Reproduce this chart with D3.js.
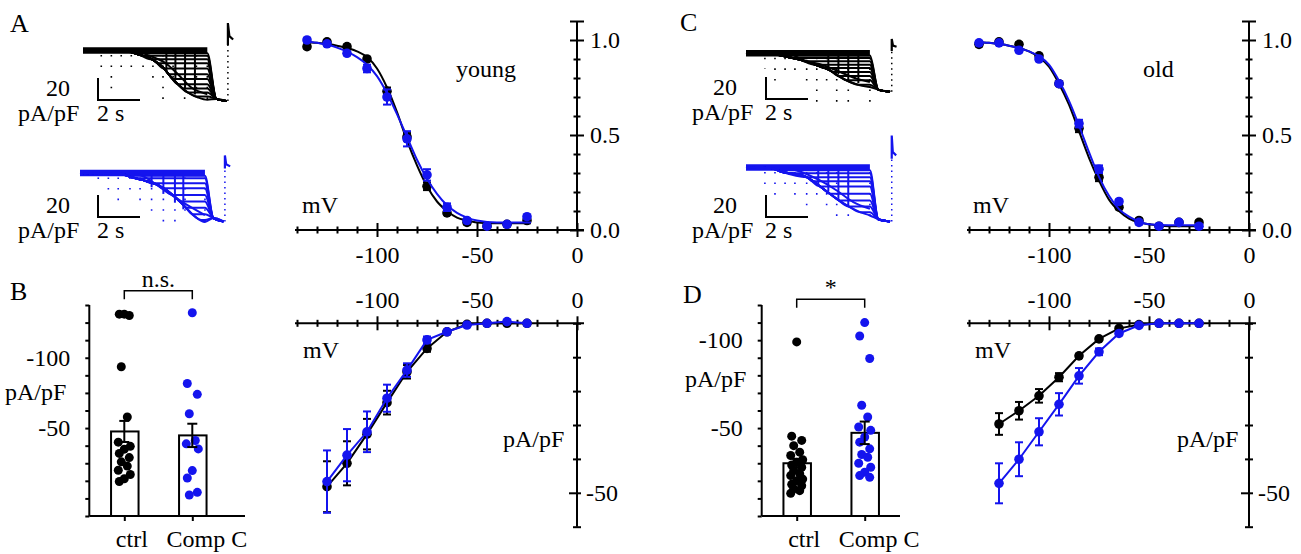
<!DOCTYPE html>
<html lang="en">
<head>
<meta charset="UTF-8">
<title>Ih activation, young vs old</title>
<script src="https://d3js.org/d3.v7.min.js"></script>
<style>
    body { margin: 0; background: #fff; }
    svg text { font-family: 'Liberation Serif', 'Times New Roman', serif; font-size: 24px; fill: #000; }
    .axis path, .axis line { stroke: #000; stroke-width: 2; fill: none; }
    .letter { font-size: 26px !important; }
</style>
</head>
<body>
<script>
// ---------- data ----------
// activation curves (normalised), test potentials in mV
var actV = [-135, -125, -115, -105, -95, -85, -75, -65, -55, -45, -35, -25];
var actYoungCtrl     = [0.965, 0.99, 0.965, 0.90, 0.73, 0.49, 0.23, 0.09, 0.04, 0.02, 0.03, 0.05];
var actYoungCtrlErr  = [0.01, 0.01, 0.01, 0.01, 0.02, 0.02, 0.02, 0.01, 0.01, 0.01, 0.01, 0.01];
var actYoungComp     = [1.0, 0.98, 0.93, 0.85, 0.70, 0.48, 0.29, 0.12, 0.05, 0.02, 0.03, 0.07];
var actYoungCompErr  = [0.01, 0.01, 0.01, 0.02, 0.04, 0.04, 0.03, 0.02, 0.01, 0.01, 0.01, 0.01];
var actOldCtrl       = [0.977, 0.99, 0.977, 0.917, 0.77, 0.535, 0.277, 0.12, 0.05, 0.02, 0.04, 0.04];
var actOldCtrlErr    = [0.01, 0.01, 0.01, 0.01, 0.01, 0.02, 0.02, 0.01, 0.01, 0.01, 0.01, 0.01];
var actOldComp       = [0.985, 0.985, 0.946, 0.90, 0.77, 0.56, 0.32, 0.15, 0.04, 0.02, 0.04, 0.02];
var actOldCompErr    = [0.01, 0.01, 0.01, 0.01, 0.01, 0.02, 0.02, 0.01, 0.01, 0.01, 0.01, 0.01];

// fitted curves
var fitV = [-137, -130, -120, -110, -105, -100, -95, -90, -85, -80, -75, -70, -65, -60, -55, -50, -40, -23];
var fitYoungCtrl = [0.99, 0.985, 0.97, 0.94, 0.91, 0.85, 0.75, 0.62, 0.47, 0.34, 0.23, 0.15, 0.10, 0.065, 0.05, 0.04, 0.035, 0.035];
var fitYoungComp = [0.995, 0.985, 0.96, 0.91, 0.87, 0.81, 0.72, 0.61, 0.49, 0.37, 0.27, 0.19, 0.13, 0.09, 0.065, 0.05, 0.04, 0.04];
var fitOldCtrl   = [0.99, 0.985, 0.97, 0.94, 0.91, 0.86, 0.77, 0.66, 0.52, 0.38, 0.26, 0.16, 0.10, 0.06, 0.04, 0.03, 0.02, 0.02];
var fitOldComp   = [0.99, 0.985, 0.97, 0.94, 0.915, 0.87, 0.785, 0.68, 0.55, 0.41, 0.28, 0.18, 0.11, 0.07, 0.045, 0.03, 0.025, 0.025];

// current densities (pA/pF) vs test potential
var ivV = [-125, -115, -105, -95, -85, -75, -65, -55, -45, -35, -25];
var ivYoungCtrl    = [-48.2, -41.3, -32.7, -23.4, -14.3, -7.4, -2.5, -0.3, 0, 0, 0];
var ivYoungCtrlErr = [7.5, 6.5, 4.5, 3.5, 2, 1, 0.5, 0.3, 0.3, 0.3, 0.3];
var ivYoungComp    = [-46.7, -38.9, -32, -22.1, -13.8, -4.9, -2.5, -0.5, 0, 0.5, 0];
var ivYoungCompErr = [9.2, 7.7, 6, 4, 2, 1, 0.5, 0.3, 0.3, 0.3, 0.3];
var ivOldCtrl      = [-29.7, -25.8, -21.4, -15.9, -9.6, -4.6, -1.5, -0.4, 0, 0, 0];
var ivOldCtrlErr   = [3.2, 2.6, 2, 1.2, 0.6, 0.4, 0.3, 0.2, 0.2, 0.2, 0.2];
var ivOldComp      = [-47.2, -40.1, -32, -23.9, -15.5, -8.4, -3, -0.6, 0, 0, 0];
var ivOldCompErr   = [5.9, 5, 4, 3.3, 2.3, 1, 0.5, 0.3, 0.3, 0.3, 0.3];

// single cells, max current density (pA/pF)
var groups = ["ctrl", "Comp C"];
var cellsYoungCtrl = [-131, -131, -130, -93.6, -57.9, -40, -37, -35, -32, -29, -26, -23, -20, -17, -14, -12];
var cellsYoungComp = [-132, -81.7, -74, -60.2, -41.2, -38.8, -35.2, -19.8, -14.5, -4.3, -2.4];
var meanYoung = [-47.6, -44.8];
var semYoung  = [7.5, 8.3];
var cellsOldCtrl = [-99, -45.4, -43, -40, -36.3, -34.4, -32, -30.6, -29, -27.7, -25.8, -24, -23, -21, -20.1, -18, -17.2, -15.5, -14.4, -12.9];
var cellsOldComp = [-110, -102.4, -89.6, -63, -56.3, -50.6, -48.7, -44.9, -42, -38.2, -35, -33.4, -30, -27.7, -24.9, -23, -22];
var meanOld = [-30, -47.3];
var semOld  = [2.5, 6.4];

// example current traces: [time s, pA/pF]
var youngCtrlEnv   = [[0, 0], [2.0, -0.5], [2.62, -3.4], [3.41, -9.4], [3.89, -17], [4.2, -24.5], [4.52, -30.6], [5.0, -38.2], [5.48, -42.7], [5.92, -44.8]];
var youngCtrlLevels = [-2.5, -4.8, -7.9, -11.5, -16.4, -21.5, -26, -30.6, -34.5, -38.2, -41.8];
var youngCtrlInner = [[2.7, -1.5], [3.17, -4.8], [3.89, -10.9], [4.52, -21.5], [5.16, -33.6], [5.92, -39.7]];
var youngCtrlVert  = [[3.97, -19], [4.4, -27], [4.86, -34], [5.33, -40]];
var youngCtrlTrans = [[0.87, -20], [1.35, -40], [1.82, -20], [2.3, -22], [2.86, -20], [3.33, -30], [3.81, -45], [4.29, -30], [4.84, -48], [5.4, -40], [5.92, -52]];
var youngCtrlTail  = [[6.35, -44], [6.85, -46]];
var youngCtrlSpike = [[6.9, 5], [6.9, 25], [6.97, 13], [7.15, 10]];

var youngCompEnv   = [[0, 0], [1.9, -0.5], [2.38, -3.4], [3.0, -6.5], [3.71, -10.9], [4.52, -21.5], [5.0, -30.6], [5.48, -39.7], [5.95, -44.5]];
var youngCompLevels = [-2.5, -4.8, -9.4, -13.9, -20, -26, -31.5, -37.5, -42.7];
var youngCompInner = [[2.6, -1], [2.94, -2.5], [3.89, -13.9], [4.84, -26], [5.95, -38.2]];
var youngCompVert  = [[3.41, -13], [3.97, -19], [4.52, -27], [4.92, -33]];
var youngCompTrans = [[0.87, -9], [1.35, -21.5], [1.82, -27], [2.38, -15], [2.86, -30], [3.41, -38], [3.97, -45], [4.52, -45], [5.0, -40], [5.95, -52]];
var youngCompTail  = [[6.35, -41], [6.83, -44]];
var youngCompSpike = [[6.9, 4], [6.9, 16], [6.96, 8], [7.15, 6]];

var oldCtrlEnv   = [[0, 0], [1.3, -0.5], [1.78, -2.5], [2.6, -6], [3.37, -10.9], [4.0, -15.5], [4.48, -21.5], [4.95, -26.1], [5.43, -29.1], [5.9, -30.6]];
var oldCtrlLevels = [-2, -4.2, -7.3, -10.3, -13.3, -17, -20.6, -24.5, -28.5];
var oldCtrlInner = [[2.2, -1], [2.57, -4.8], [3.68, -10.9], [4.48, -17], [5.27, -23], [5.9, -26.1]];
var oldCtrlVert  = [[3.92, -14], [4.4, -19], [4.87, -24], [5.35, -27]];
var oldCtrlTrans = [[0.9, -14], [1.38, -32], [1.86, -23], [2.33, -20], [2.89, -32], [3.37, -49], [3.84, -29], [4.32, -50], [4.87, -45], [5.9, -50]];
var oldCtrlTail  = [[6.3, -33], [6.86, -35]];
var oldCtrlSpike = [[6.94, 2], [6.94, 13], [7.0, 7], [7.17, 6]];

var oldCompEnv   = [[0, 0], [1.2, -0.5], [1.62, -3.4], [2.89, -8.8], [3.68, -19.4], [4.32, -28.5], [4.95, -36.1], [5.43, -40.6], [5.9, -43.6]];
var oldCompLevels = [-2.5, -5.2, -8.8, -12.4, -17.3, -23.9, -30, -35.5, -40.6];
var oldCompInner = [[2.0, -1], [2.41, -2.7], [3.52, -11.8], [4.32, -20.9], [5.11, -31.5], [5.9, -37.5]];
var oldCompVert  = [[3.44, -15], [3.92, -22], [4.4, -29], [4.87, -34]];
var oldCompTrans = [[0.9, -21], [1.38, -26], [1.86, -20], [2.33, -30], [2.89, -34.5], [3.37, -31], [3.84, -42], [4.32, -45], [4.87, -46], [5.9, -48]];
var oldCompTail  = [[6.3, -47], [6.86, -49]];
var oldCompSpike = [[6.94, 8], [6.94, 29], [6.99, 14], [7.15, 11]];

// ---------- drawing ----------
var BLUE = "#1414ee";
var svg = d3.select("body").append("svg").attr("width", 1301).attr("height", 554);

function txt(x, y, s, anchor, cls) {
    var t = svg.append("text").attr("x", x).attr("y", y).text(s);
    if (anchor) t.attr("text-anchor", anchor);
    if (cls) t.attr("class", cls);
    return t;
}

function errBar(g, x, y0, y1, color, cap) {
    g.append("line").attr("x1", x).attr("x2", x).attr("y1", y0).attr("y2", y1)
        .attr("stroke", color).attr("stroke-width", 2);
    [y0, y1].forEach(function(yy) {
        g.append("line").attr("x1", x - cap).attr("x2", x + cap).attr("y1", yy).attr("y2", yy)
            .attr("stroke", color).attr("stroke-width", 2);
    });
}

function series(g, x, y, xs, mean, err, color) {
    xs.forEach(function(v, i) {
        errBar(g, x(v), y(mean[i] - err[i]), y(mean[i] + err[i]), color, 4);
    });
    g.selectAll(null).data(xs).enter().append("circle")
        .attr("cx", function(d) { return x(d); })
        .attr("cy", function(d, i) { return y(mean[i]); })
        .attr("r", 4.8).attr("fill", color);
}

function activationPanel(axisX, ctrl, ctrlErr, comp, compErr, fitC, fitB) {
    var x = d3.scaleLinear().domain([-140, 0]).range([axisX - 280, axisX]);
    var y = d3.scaleLinear().domain([0, 1]).range([230, 40]);
    var xMajor = function(d) { return d % 50 === 0; };
    var xa = svg.append("g").attr("class", "axis").attr("transform", "translate(0," + y(0) + ")")
        .call(d3.axisBottom(x).tickValues(d3.range(-140, 1, 10)).tickSizeOuter(0)
            .tickFormat(function(d) { return xMajor(d) ? d : ""; }));
    xa.select(".domain").attr("d", "M" + (x(-140) - 2) + ",0H" + (axisX + 7));
    xa.selectAll(".tick line").attr("y1", function(d) { return xMajor(d) ? -7 : -3.5; })
        .attr("y2", function(d) { return xMajor(d) ? 7 : 3.5; });
    xa.selectAll(".tick text").attr("y", 16);

    var yTicks = d3.range(0, 12).map(function(i) { return i / 10; });
    var yMajor = function(d) { return [0, 5, 10, 11].indexOf(Math.round(d * 10)) >= 0; };
    var ya = svg.append("g").attr("class", "axis").attr("transform", "translate(" + axisX + ",0)")
        .call(d3.axisRight(y).tickValues(yTicks).tickSizeOuter(0)
            .tickFormat(function(d) { return [0, 5, 10].indexOf(Math.round(d * 10)) >= 0 ? d3.format(".1f")(d) : ""; }));
    ya.select(".domain").attr("d", "M0," + y(0) + "V" + y(1.1));
    ya.selectAll(".tick line").attr("x1", function(d) { return yMajor(d) ? -7 : -3.5; })
        .attr("x2", function(d) { return yMajor(d) ? 7 : 3.5; });
    ya.selectAll(".tick text").attr("x", 13);

    var g = svg.append("g");
    var fit = d3.line().x(function(d) { return x(d[0]); }).y(function(d) { return y(d[1]); }).curve(d3.curveMonotoneX);
    g.append("path").datum(fitV.map(function(v, i) { return [v, fitC[i]]; }))
        .attr("fill", "none").attr("stroke", "#000").attr("stroke-width", 2).attr("d", fit);
    series(g, x, y, actV, ctrl, ctrlErr, "#000");
    g.append("path").datum(fitV.map(function(v, i) { return [v, fitB[i]]; }))
        .attr("fill", "none").attr("stroke", BLUE).attr("stroke-width", 2).attr("d", fit);
    series(g, x, y, actV, comp, compErr, BLUE);
}

function ivPanel(axisX, ctrl, ctrlErr, comp, compErr) {
    var x = d3.scaleLinear().domain([-140, 0]).range([axisX - 280, axisX]);
    var y = d3.scaleLinear().domain([0, -60]).range([323.3, 526.7]);
    var xMajor = function(d) { return d % 50 === 0; };
    var xa = svg.append("g").attr("class", "axis").attr("transform", "translate(0," + y(0) + ")")
        .call(d3.axisTop(x).tickValues(d3.range(-140, 1, 10)).tickSizeOuter(0)
            .tickFormat(function(d) { return xMajor(d) ? d : ""; }));
    xa.select(".domain").attr("d", "M" + (x(-140) - 2) + ",0H" + (axisX + 7));
    xa.selectAll(".tick line").attr("y1", function(d) { return xMajor(d) ? -7 : -3.5; })
        .attr("y2", function(d) { return xMajor(d) ? 7 : 3.5; });
    xa.selectAll(".tick text").attr("y", -15).attr("dy", 0);

    var ya = svg.append("g").attr("class", "axis").attr("transform", "translate(" + axisX + ",0)")
        .call(d3.axisRight(y).tickValues(d3.range(-60, 1, 10)).tickSizeOuter(0)
            .tickFormat(function(d) { return d === -50 ? d : ""; }));
    ya.select(".domain").attr("d", "M0," + y(0) + "V" + y(-60));
    ya.selectAll(".tick line").attr("x1", function(d) { return d === -50 ? -8 : -4; })
        .attr("x2", 4);
    ya.selectAll(".tick text").attr("x", 9);

    var g = svg.append("g");
    [[ctrl, ctrlErr, "#000"], [comp, compErr, BLUE]].forEach(function(s) {
        g.append("path").datum(ivV.map(function(v, i) { return [v, s[0][i]]; }))
            .attr("fill", "none").attr("stroke", s[2]).attr("stroke-width", 2)
            .attr("d", d3.line().x(function(d) { return x(d[0]); }).y(function(d) { return y(d[1]); }));
        series(g, x, y, ivV, s[0], s[1], s[2]);
    });
}

function barPanel(axisX, xEnd, domain, tickVals, cellsA, cellsB, mean, sem, sig, brTop, sigY) {
    var y = d3.scaleLinear().domain(domain).range([516, 305]);
    var x = d3.scalePoint().domain(groups).range([axisX + 35, axisX + 103]);
    var ya = svg.append("g").attr("class", "axis").attr("transform", "translate(" + axisX + ",0)")
        .call(d3.axisLeft(y).tickValues(tickVals).tickSize(4).tickPadding(15).tickSizeOuter(0)
            .tickFormat(function(d) { return (d === -100 || d === -50) ? d : ""; }));
    ya.select(".domain").attr("d", "M0," + y(domain[1]) + "V" + y(domain[0]));
    var xa = svg.append("g").attr("class", "axis").attr("transform", "translate(0,516)")
        .call(d3.axisBottom(x).tickSize(5).tickSizeOuter(0));
    xa.select(".domain").attr("d", "M" + axisX + ",0H" + xEnd);
    xa.selectAll(".tick text").attr("y", 14).attr("dx", function(d, i) { return i === 0 ? 7 : 14; });

    var g = svg.append("g");
    var bw = 27.5;
    groups.forEach(function(k, i) {
        g.append("rect").attr("x", x(k) - bw / 2 + 0.5).attr("width", bw)
            .attr("y", y(mean[i])).attr("height", y(domain[0]) - y(mean[i]))
            .attr("fill", "#fff").attr("stroke", "#000").attr("stroke-width", 2);
    });
    var jit = [0, -5, 5, -3, 3, -6, 6];
    [[cellsA, "#000"], [cellsB, BLUE]].forEach(function(s, i) {
        g.selectAll(null).data(s[0]).enter().append("circle")
            .attr("cx", function(d, j) { return x(groups[i]) + jit[j % jit.length]; })
            .attr("cy", function(d) { return y(d); })
            .attr("r", 4.5).attr("fill", s[1]);
    });
    groups.forEach(function(k, i) {
        errBar(g, x(k), y(mean[i] - sem[i]), y(mean[i] + sem[i]), "#000", 5);
    });
    // significance bracket
    g.append("path").attr("fill", "none").attr("stroke", "#000").attr("stroke-width", 1.5)
        .attr("d", "M" + x(groups[0]) + "," + (brTop + 8.5) + "V" + brTop + "H" + x(groups[1]) + "V" + (brTop + 8.5));
    txt((x(groups[0]) + x(groups[1])) / 2, sigY, sig, "middle");
}

function tracePanel(x0, y0, color, env, levels, inner, verts, trans, tail, spike) {
    var t = d3.scaleLinear().domain([0, 1]).range([x0, x0 + 21]);
    var c = d3.scaleLinear().domain([0, -1]).range([y0, y0 + 1.1]);
    var tEnd = env[env.length - 1][0];
    var g = svg.append("g").attr("fill", "none").attr("stroke", color);
    var line = d3.line().x(function(d) { return t(d[0]); }).y(function(d) { return c(d[1]); }).curve(d3.curveMonotoneX);

    // capacitive transients: sparse dots
    trans.forEach(function(d) {
        g.append("line").attr("x1", t(d[0])).attr("x2", t(d[0])).attr("y1", c(-4)).attr("y2", c(d[1]))
            .attr("stroke-width", 1.6).attr("stroke-dasharray", "1.6,9");
    });
    g.append("line").attr("x1", t(0)).attr("x2", t(tEnd)).attr("y1", c(0)).attr("y2", c(0)).attr("stroke-width", 6.5);

    levels.concat([env[env.length - 1][1]]).forEach(function(L) {
        var pts = [];
        for (var i = 0; i < env.length; i++) {
            if (env[i][1] > L) { pts.push(env[i]); continue; }
            var a = env[i - 1], b = env[i];
            var f = (a[1] - L) / (a[1] - b[1]);
            pts.push([a[0] + f * (b[0] - a[0]), L]);
            break;
        }
        if (pts[pts.length - 1][0] < tEnd) pts.push([tEnd, L]);
        pts = pts.concat(tail);
        g.append("path").attr("d", line(pts)).attr("stroke-width", 2);
    });
    g.append("path").attr("d", line(inner)).attr("stroke-width", 2);
    verts.forEach(function(d) {
        g.append("line").attr("x1", t(d[0])).attr("x2", t(d[0])).attr("y1", c(-2)).attr("y2", c(d[1]))
            .attr("stroke-width", 2);
    });
    var last = tail[tail.length - 1];
    g.append("line").attr("x1", t(spike[0][0])).attr("x2", t(spike[0][0]))
        .attr("y1", c(last[1])).attr("y2", c(spike[0][1]))
        .attr("stroke-width", 1.5).attr("stroke-dasharray", "1.5,4");
    g.append("path").attr("d", d3.line().x(function(d) { return t(d[0]); }).y(function(d) { return c(d[1]); })(spike))
        .attr("stroke-width", 2.2);
}

function scaleBar(cx, cy, textRight, textLeft) {
    var g = svg.append("g").attr("fill", "none").attr("stroke", "#000").attr("stroke-width", 2);
    g.append("path").attr("d", "M" + cx + "," + (cy - 22) + "V" + cy + "H" + (cx + 42));
    txt(textRight, cy - 4, "20", "end");
    txt(textLeft, cy + 21, "pA/pF");
    txt(cx - 1, cy + 21, "2 s");
}

// ---- A ----
tracePanel(83, 50.5, "#000", youngCtrlEnv, youngCtrlLevels, youngCtrlInner, youngCtrlVert, youngCtrlTrans, youngCtrlTail, youngCtrlSpike);
tracePanel(80, 173, BLUE, youngCompEnv, youngCompLevels, youngCompInner, youngCompVert, youngCompTrans, youngCompTail, youngCompSpike);
scaleBar(98, 100, 70, 18);
scaleBar(98, 217, 70, 18);
activationPanel(577, actYoungCtrl, actYoungCtrlErr, actYoungComp, actYoungCompErr, fitYoungCtrl, fitYoungComp);
txt(456, 77, "young");
txt(302, 213, "mV");

// ---- C ----
tracePanel(746, 53.3, "#000", oldCtrlEnv, oldCtrlLevels, oldCtrlInner, oldCtrlVert, oldCtrlTrans, oldCtrlTail, oldCtrlSpike);
tracePanel(746, 167.5, BLUE, oldCompEnv, oldCompLevels, oldCompInner, oldCompVert, oldCompTrans, oldCompTail, oldCompSpike);
scaleBar(766, 99, 737, 692);
scaleBar(766, 217, 737, 692);
activationPanel(1249, actOldCtrl, actOldCtrlErr, actOldComp, actOldCompErr, fitOldCtrl, fitOldComp);
txt(1143, 77, "old");
txt(973, 213, "mV");

// ---- B ----
barPanel(89.3, 245, [12.5, -137.5], d3.range(-137.5, 12.6, 12.5), cellsYoungCtrl, cellsYoungComp, meanYoung, semYoung, "n.s.", 290.7, 287);
txt(5, 400, "pA/pF");
ivPanel(577, ivYoungCtrl, ivYoungCtrlErr, ivYoungComp, ivYoungCompErr);
txt(303, 358, "mV");
txt(503, 447, "pA/pF");

// ---- D ----
barPanel(761.7, 900, [0, -120], d3.range(-120, 1, 10), cellsOldCtrl, cellsOldComp, meanOld, semOld, "*", 299.3, 295);
txt(685, 387, "pA/pF");
ivPanel(1249, ivOldCtrl, ivOldCtrlErr, ivOldComp, ivOldCompErr);
txt(975, 358, "mV");
txt(1177, 447, "pA/pF");

// panel letters
txt(10, 32, "A", null, "letter");
txt(10, 300, "B", null, "letter");
txt(680, 31, "C", null, "letter");
txt(683, 303, "D", null, "letter");
</script>
</body>
</html>
